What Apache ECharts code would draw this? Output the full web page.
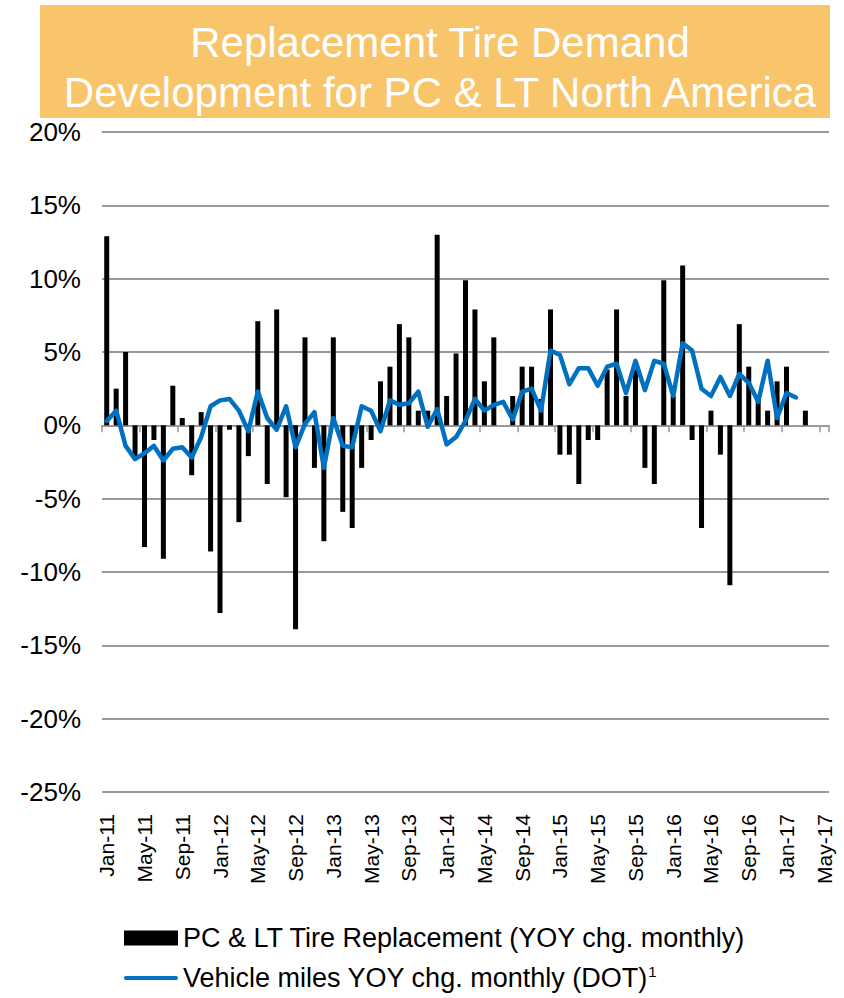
<!DOCTYPE html>
<html>
<head>
<meta charset="utf-8">
<script src="https://cdn.jsdelivr.net/npm/echarts@6/dist/echarts.min.js"></script>
<style>
html,body{margin:0;padding:0;background:#fff;}
#chart{width:844px;height:998px;}
</style>
</head>
<body>
<div id="chart"></div>
<script>
var categories = [
 'Jan-11','Feb-11','Mar-11','Apr-11','May-11','Jun-11','Jul-11','Aug-11','Sep-11','Oct-11','Nov-11','Dec-11',
 'Jan-12','Feb-12','Mar-12','Apr-12','May-12','Jun-12','Jul-12','Aug-12','Sep-12','Oct-12','Nov-12','Dec-12',
 'Jan-13','Feb-13','Mar-13','Apr-13','May-13','Jun-13','Jul-13','Aug-13','Sep-13','Oct-13','Nov-13','Dec-13',
 'Jan-14','Feb-14','Mar-14','Apr-14','May-14','Jun-14','Jul-14','Aug-14','Sep-14','Oct-14','Nov-14','Dec-14',
 'Jan-15','Feb-15','Mar-15','Apr-15','May-15','Jun-15','Jul-15','Aug-15','Sep-15','Oct-15','Nov-15','Dec-15',
 'Jan-16','Feb-16','Mar-16','Apr-16','May-16','Jun-16','Jul-16','Aug-16','Sep-16','Oct-16','Nov-16','Dec-16',
 'Jan-17','Feb-17','Mar-17','Apr-17','May-17'
];

var tireReplacement = [
 12.9, 2.5, 5.0, -2.1, -8.3, -1.0, -9.1, 2.7, 0.5, -3.4, 0.9, -8.6,
 -12.8, -0.3, -6.6, -2.1, 7.1, -4.0, 7.9, -4.9, -13.9, 6.0, -2.9, -7.9,
 6.0, -5.9, -7.0, -2.9, -1.0, 3.0, 4.0, 6.9, 6.0, 1.0, 1.0, 13.0,
 2.0, 4.9, 9.9, 7.9, 3.0, 6.0, null, 2.0, 4.0, 4.0, 1.8, 7.9,
 -2.0, -2.0, -4.0, -1.0, -1.0, 3.8, 7.9, 2.0, 3.8, -2.9, -4.0, 9.9,
 2.0, 10.9, -1.0, -7.0, 1.0, -2.0, -10.9, 6.9, 4.0, 1.9, 1.0, 3.0,
 4.0, null, 1.0, null, null
];

var vehicleMiles = [
 0.3, 1.0, -1.4, -2.3, -1.9, -1.4, -2.4, -1.6, -1.5, -2.2, -0.8, 1.3,
 1.7, 1.8, 1.0, -0.4, 2.3, 0.5, -0.3, 1.3, -1.5, 0.1, 0.9, -2.9,
 0.5, -1.4, -1.5, 1.3, 1.0, -0.4, 1.7, 1.4, 1.5, 2.3, -0.1, 1.1,
 -1.3, -0.8, 0.3, 1.8, 1.0, 1.4, 1.6, 0.4, 2.3, 2.5, 1.0, 5.1,
 4.8, 2.8, 3.9, 3.9, 2.7, 4.0, 4.2, 2.2, 4.4, 2.4, 4.4, 4.2,
 2.0, 5.6, 5.1, 2.5, 2.0, 3.3, 2.0, 3.5, 2.9, 1.6, 4.4, 0.5,
 2.2, 1.9, null, null, null
];

var yTicks = { min: -25, max: 20, interval: 5 };
var barName = 'PC & LT Tire Replacement (YOY chg. monthly)';
var lineName = 'Vehicle miles YOY chg. monthly (DOT)';
var titleLines = ['Replacement Tire Demand', 'Development for PC & LT North America'];

var FONT = 'Liberation Sans, Arial, sans-serif';
var chart = echarts.init(document.getElementById('chart'), null, {renderer: 'svg', width: 844, height: 998});

chart.setOption({
  animation: false,
  backgroundColor: '#ffffff',
  graphic: [{
    type: 'rect', z: -10,
    shape: {x: 40, y: 5, width: 790, height: 113},
    style: {fill: '#F9C56B'}
  }],
  title: {
    text: titleLines.join('\n'),
    left: 435, top: 12, textAlign: 'center',
    textStyle: {color: '#ffffff', fontFamily: FONT, fontSize: 42, fontWeight: 'normal', lineHeight: 50}
  },
  grid: {left: 102, right: 15, top: 132, bottom: 206, containLabel: false},
  legend: {
    orient: 'vertical', left: 124, top: 924, padding: 0,
    itemWidth: 54, itemHeight: 15, itemGap: 12,
    symbolKeepAspect: true,
    textStyle: {
      fontFamily: FONT, fontSize: 27, color: '#000', lineHeight: 28,
      rich: {sup: {fontFamily: FONT, fontSize: 15, verticalAlign: 'top', lineHeight: 8, padding: [0, 0, 0, 0]}}
    },
    data: [
      {name: barName, icon: 'rect'},
      {name: lineName, icon: 'path://M2,0 H54 A2,2 0 0 1 54,4 H2 A2,2 0 0 1 2,0 Z'}
    ],
    formatter: function (n) { return n === lineName ? n + '{sup|1}' : n; }
  },
  xAxis: [{
    type: 'category', data: categories, position: 'bottom',
    axisLine: {show: false, onZero: false}, axisTick: {show: false},
    axisLabel: {interval: 3, rotate: 90, margin: 22, fontFamily: FONT, fontSize: 21, color: '#000'},
    splitLine: {show: false}
  }, {
    type: 'category', data: categories, position: 'bottom',
    axisLine: {show: true, onZero: true, lineStyle: {color: '#999', width: 2}},
    axisTick: {show: true, interval: 3, length: 7, lineStyle: {color: '#999', width: 1.5}},
    axisLabel: {show: false}, splitLine: {show: false}
  }],
  yAxis: {
    type: 'value', min: yTicks.min, max: yTicks.max, interval: yTicks.interval,
    axisLine: {show: false}, axisTick: {show: false},
    axisLabel: {formatter: '{value}%', fontFamily: FONT, fontSize: 26, color: '#000', margin: 21},
    splitLine: {show: true, lineStyle: {color: '#999', width: 2}}
  },
  series: [{
    name: barName, type: 'bar', data: tireReplacement, xAxisIndex: 0,
    barWidth: 5, itemStyle: {color: '#000'}, z: 2
  }, {
    name: lineName, type: 'line', data: vehicleMiles, xAxisIndex: 0,
    symbol: 'none', connectNulls: false, z: 3,
    lineStyle: {color: '#0070C0', width: 4.5, cap: 'round', join: 'round'},
    itemStyle: {color: '#0070C0'}
  }]
});
</script>
</body>
</html>
